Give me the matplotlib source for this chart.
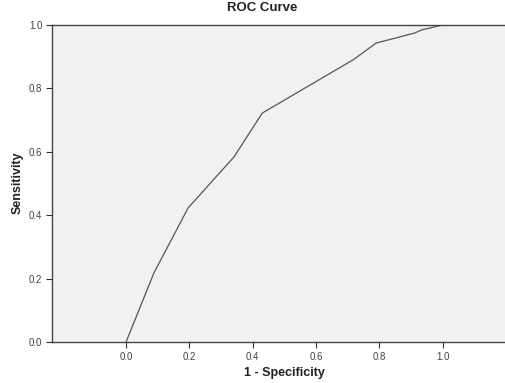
import matplotlib.pyplot as plt

# ROC curve points
fpr = [0.0, 0.088, 0.196, 0.341, 0.43, 0.717, 0.79, 0.913, 0.932, 1.0]
tpr = [0.0, 0.218, 0.423, 0.584, 0.722, 0.89, 0.943, 0.975, 0.984, 1.0]
ticks = [0.0, 0.2, 0.4, 0.6, 0.8, 1.0]

plt.rcParams['font.family'] = ['Liberation Sans', 'DejaVu Sans']

fig = plt.figure(figsize=(5.05, 3.83), dpi=100)
ax = fig.add_axes([52/505, 1-342/383, 1-52/505, (342-25)/383])
ax.set_facecolor('#f1f1f1')

ax.plot(fpr, tpr, color='#555555', linewidth=0.9)

ax.set_xlim(-0.234, 1.197)
ax.set_ylim(0, 1)
ax.set_xticks(ticks)
ax.set_yticks(ticks)
ax.set_xticklabels(['%.1f' % t for t in ticks])
ax.set_yticklabels(['%.1f' % t for t in ticks])
ax.tick_params(axis='both', labelsize=7, colors='#333333', labelcolor='#444444',
               length=4, width=0.8, direction='out', pad=3)

for s in ['left', 'bottom', 'top']:
    ax.spines[s].set_color('#444444')
    ax.spines[s].set_linewidth(1.0)
ax.spines['right'].set_visible(False)

fig.text(262/505, 1-8/383, 'ROC Curve', ha='center', va='center',
         fontsize=9.5, fontweight='bold', color='#222222')
fig.text(284/505, 1-373/383, '1 - Specificity', ha='center', va='center',
         fontsize=9, fontweight='bold', color='#222222')
fig.text(18/505, 1-183/383, 'Sensitivity', ha='center', va='center',
         rotation=90, fontsize=9, fontweight='bold', color='#222222')

fig.savefig('out.png', dpi=100)
